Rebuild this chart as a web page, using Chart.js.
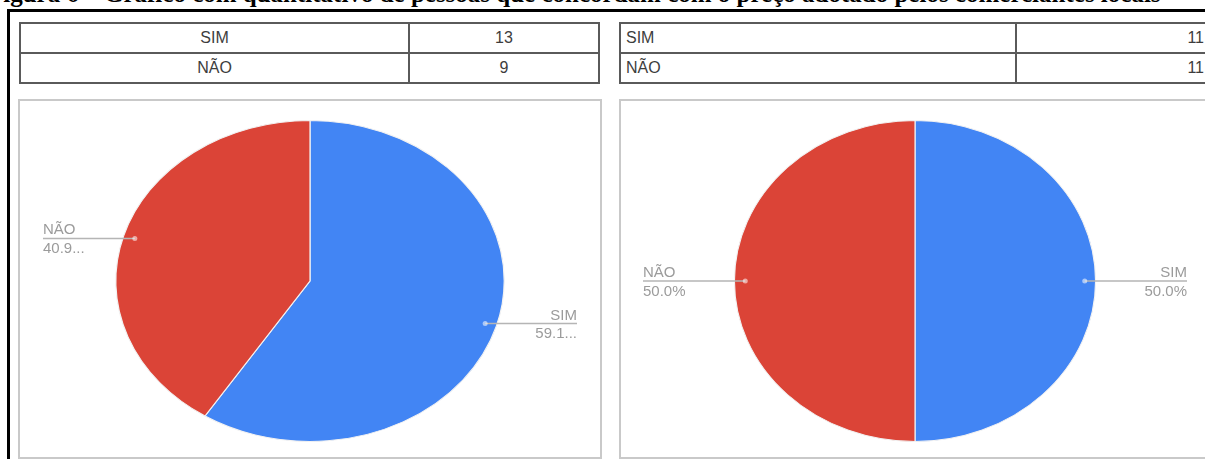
<!DOCTYPE html>
<html>
<head>
<meta charset="utf-8">
<script src="https://cdn.jsdelivr.net/npm/chart.js@4.4.0/dist/chart.umd.min.js"></script>
<style>
  html, body { margin: 0; padding: 0; background: #fff; overflow: hidden; }
  body { width: 1205px; height: 459px; position: relative; }
  #title {
    position: absolute; left: -12px; top: -19px; white-space: nowrap;
    font: bold 25px "Liberation Serif", "Times New Roman", serif; line-height: 25px; color: #000;
  }
  #topline { position: absolute; left: 7px; top: 9px; width: 1200px; height: 3px; background: #000; }
  #leftline { position: absolute; left: 7px; top: 9px; width: 3px; height: 460px; background: #000; }
  table.counts {
    position: absolute; border-collapse: collapse; table-layout: fixed;
    font: 16px "Liberation Sans", Arial, sans-serif; color: #3d3d3d;
  }
  table.counts td { border: 2px solid #5a5a5a; height: 28px; padding: 0 5px; line-height: 28px; }
  #tblLeft { left: 19px; top: 22px; width: 581px; }
  #tblLeft td { text-align: center; }
  #tblRight { left: 619px; top: 22px; width: 592px; }
  #tblRight td:first-child { text-align: left; }
  #tblRight td:last-child { text-align: right; }
  .panel { position: absolute; border: 2px solid #c9c9c9; background: #fff; }
  #pLeft { left: 18px; top: 99px; width: 580px; height: 356px; }
  #pRight { left: 619px; top: 99px; width: 588px; height: 356px; }
  .panel canvas { display: block; }
</style>
</head>
<body>
<div id="title">Figura 6 – Gráfico com quantitativo de pessoas que concordam com o preço adotado pelos comerciantes locais</div>
<div id="topline"></div>
<div id="leftline"></div>

<table class="counts" id="tblLeft"><colgroup><col style="width:389px"><col></colgroup><tbody></tbody></table>
<table class="counts" id="tblRight"><colgroup><col style="width:396px"><col></colgroup><tbody></tbody></table>

<div class="panel" id="pLeft"><canvas id="pieLeft" width="580" height="356"></canvas></div>
<div class="panel" id="pRight"><canvas id="pieRight" width="588" height="356"></canvas></div>

<script>
// respostas
const categories = ['SIM', 'NÃO'];
const leftValues = [13, 9];
const rightValues = [11, 11];
const sliceColors = ['#4285f4', '#db4437'];

function fillTable(id, values) {
  const body = document.querySelector('#' + id + ' tbody');
  categories.forEach((c, i) => {
    const tr = document.createElement('tr');
    const a = document.createElement('td');
    a.textContent = c;
    const b = document.createElement('td');
    b.textContent = values[i];
    tr.appendChild(a);
    tr.appendChild(b);
    body.appendChild(tr);
  });
}
fillTable('tblLeft', leftValues);
fillTable('tblRight', rightValues);

// the screenshot is stretched sideways, so the pie gets drawn as an ellipse
function stretchPlugin(sx) {
  return {
    id: 'stretch',
    beforeDatasetsDraw(chart) {
      const a = chart.getDatasetMeta(0).data[0];
      const ctx = chart.ctx;
      ctx.save();
      ctx.translate(a.x, a.y);
      ctx.scale(sx, 1);
      ctx.translate(-a.x, -a.y);
    },
    afterDatasetsDraw(chart) {
      chart.ctx.restore();
    }
  };
}

function labelPlugin(sx, edge, maxW) {
  return {
    id: 'sideLabels',
    afterDraw(chart) {
      const ctx = chart.ctx;
      const ds = chart.data.datasets[0].data;
      const total = ds.reduce((s, v) => s + v, 0);
      chart.getDatasetMeta(0).data.forEach((arc, i) => {
        const mid = (arc.startAngle + arc.endAngle) / 2;
        const px = arc.x + Math.cos(mid) * arc.outerRadius * sx * 0.94;
        const py = arc.y + Math.sin(mid) * arc.outerRadius * 0.94;
        const right = Math.cos(mid) >= 0;
        const ex = right ? chart.width - edge : edge;

        ctx.save();
        ctx.strokeStyle = '#b5b5b5';
        ctx.lineWidth = 1.5;
        ctx.beginPath();
        ctx.moveTo(px, py);
        ctx.lineTo(ex, py);
        ctx.stroke();
        ctx.fillStyle = 'rgba(255,255,255,0.55)';
        ctx.beginPath();
        ctx.arc(px, py, 2.5, 0, Math.PI * 2);
        ctx.fill();

        ctx.font = '15px "Liberation Sans", Arial, sans-serif';
        ctx.fillStyle = '#9b9b9b';
        ctx.textAlign = right ? 'right' : 'left';
        ctx.textBaseline = 'alphabetic';
        ctx.fillText(chart.data.labels[i], ex, py - 4);
        let pct = (ds[i] / total * 100).toFixed(1) + '%';
        if (ctx.measureText(pct).width > maxW) pct = pct.slice(0, -1) + '...';
        ctx.textBaseline = 'top';
        ctx.fillText(pct, ex, py + 3);
        ctx.restore();
      });
    }
  };
}

function makePie(id, values, o) {
  return new Chart(document.getElementById(id), {
    type: 'pie',
    data: {
      labels: categories,
      datasets: [{
        data: values,
        backgroundColor: sliceColors,
        borderColor: '#f2f2f2',
        borderWidth: 1
      }]
    },
    options: {
      responsive: false,
      animation: false,
      layout: { padding: o.padding },
      plugins: { legend: { display: false }, tooltip: { enabled: false } }
    },
    plugins: [stretchPlugin(o.sx), labelPlugin(o.sx, o.edge, o.maxW)]
  });
}

makePie('pieLeft', leftValues, { padding: { top: 19, bottom: 15 }, sx: 1.21, edge: 23, maxW: 38 });
makePie('pieRight', rightValues, { padding: { top: 19, bottom: 15 }, sx: 1.125, edge: 22, maxW: 60 });
</script>
</body>
</html>
